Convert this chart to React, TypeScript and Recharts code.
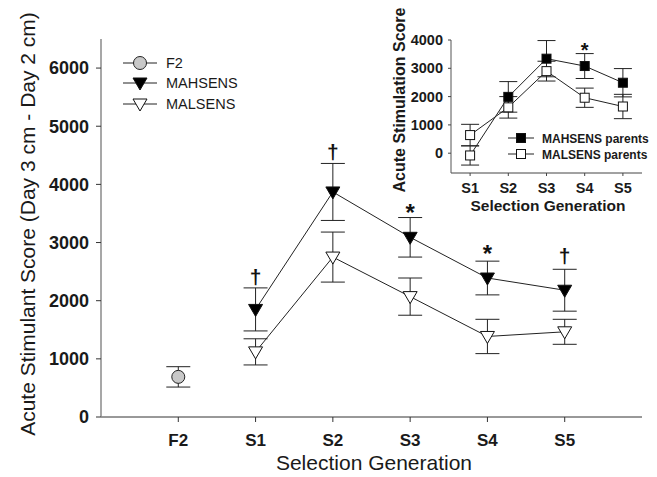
import React from 'react';
import { ComposedChart, Line, XAxis, YAxis, ErrorBar, Scatter } from 'recharts';

// ---------- main chart data ----------
const generations = ['F2', 'S1', 'S2', 'S3', 'S4', 'S5'];
const f2Mean = [690];
const f2Err = [175];
const selGenerations = ['S1', 'S2', 'S3', 'S4', 'S5'];
const mahsensMean = [1850, 3870, 3090, 2390, 2180];
const mahsensErr = [370, 490, 340, 290, 360];
const malsensMean = [1120, 2750, 2070, 1385, 1465];
const malsensErr = [225, 430, 320, 295, 215];
const mainMarkGens = ['S1', 'S2', 'S3', 'S4', 'S5'];
const mainMarkSymbols = ['†', '†', '*', '*', '†'];
const mainMarkY = [2400, 4550, 3620, 2920, 2750];
const mainYTicks = [0, 1000, 2000, 3000, 4000, 5000, 6000];

// ---------- inset data ----------
const insetGenerations = ['S1', 'S2', 'S3', 'S4', 'S5'];
const mahParentsMean = [-80, 1990, 3340, 3080, 2490];
const mahParentsErr = [340, 540, 640, 440, 500];
const malParentsMean = [640, 1620, 2900, 1960, 1650];
const malParentsErr = [380, 380, 350, 340, 430];
const insetMarkGens = ['S4'];
const insetMarkSymbols = ['*'];
const insetMarkY = [3820];
const insetYTicks = [0, 1000, 2000, 3000, 4000];

const FONT = '"Liberation Sans", Arial, Helvetica, sans-serif';
const INK = '#1a1a1a';

const mainX = (g: string) => generations.indexOf(g) + 1;
const insetX = (g: string) => insetGenerations.indexOf(g) + 1;

const f2Data = f2Mean.map((v, i) => ({ x: mainX('F2'), y: v, e: f2Err[i] }));
const mahData = selGenerations.map((g, i) => ({ x: mainX(g), y: mahsensMean[i], e: mahsensErr[i] }));
const malData = selGenerations.map((g, i) => ({ x: mainX(g), y: malsensMean[i], e: malsensErr[i] }));
const mainMarks = mainMarkGens.map((g, i) => ({ x: mainX(g), y: mainMarkY[i], s: mainMarkSymbols[i] }));

const mahPData = insetGenerations.map((g, i) => ({ x: insetX(g), y: mahParentsMean[i], e: mahParentsErr[i] }));
const malPData = insetGenerations.map((g, i) => ({ x: insetX(g), y: malParentsMean[i], e: malParentsErr[i] }));
const insetMarks = insetMarkGens.map((g, i) => ({ x: insetX(g), y: insetMarkY[i], s: insetMarkSymbols[i] }));

const downTri = (fill: string) => (props: any) => {
  const { cx, cy, index } = props;
  if (cx == null || cy == null) return <g key={`n${index}`} />;
  return (
    <path
      key={`t${index}`}
      d={`M${cx - 7},${cy - 5} L${cx + 7},${cy - 5} L${cx},${cy + 7} Z`}
      fill={fill}
      stroke="#111"
      strokeWidth={1}
    />
  );
};

const circleDot = (props: any) => {
  const { cx, cy, index } = props;
  if (cx == null || cy == null) return <g key={`n${index}`} />;
  return <circle key={`c${index}`} cx={cx} cy={cy} r={6.5} fill="#c8c8c8" stroke="#222" strokeWidth={1} />;
};

const square = (fill: string, openIdx: number[] = []) => (props: any) => {
  const { cx, cy, index } = props;
  if (cx == null || cy == null) return <g key={`n${index}`} />;
  const f = openIdx.includes(index) ? '#fff' : fill;
  return <rect key={`s${index}`} x={cx - 4.5} y={cy - 4.5} width={9} height={9} fill={f} stroke="#111" strokeWidth={1} />;
};

// significance symbols as real text, centred on the point
const markShape = (daggerSize: number, starSize: number) => (props: any) => {
  const { cx, cy, payload } = props;
  if (cx == null || cy == null) return <g />;
  const isStar = payload.s === '*';
  const fs = isStar ? starSize : daggerSize;
  const dy = isStar ? 0.6 * fs : 0.3 * fs;
  return (
    <text
      x={cx}
      y={cy + dy}
      textAnchor="middle"
      fontSize={fs}
      fontWeight="bold"
      fontFamily={FONT}
      style={{ fill: '#111', stroke: 'none' }}
    >
      {payload.s}
    </text>
  );
};

export default function App() {
  return (
    <div style={{ position: 'absolute', left: 0, top: 0, width: 657, height: 477, background: '#fff', fontFamily: FONT }}>
      <div style={{ position: 'absolute', left: 0, top: 0 }}>
        <ComposedChart width={657} height={477} margin={{ top: 39, right: 15, bottom: 30, left: 0 }}>
          <XAxis
            type="number"
            dataKey="x"
            domain={[0, 7]}
            ticks={[1, 2, 3, 4, 5, 6]}
            tickFormatter={(v: number) => generations[v - 1] ?? ''}
            height={30}
            tickSize={5}
            tickMargin={12}
            axisLine={{ stroke: '#333' }}
            tickLine={{ stroke: '#333' }}
            tick={{ fontSize: 17, fontWeight: 'bold', fill: INK, fontFamily: FONT }}
            allowDataOverflow
          />
          <YAxis
            type="number"
            domain={[0, 6500]}
            ticks={mainYTicks}
            width={101}
            tickSize={5}
            tickMargin={7}
            axisLine={{ stroke: '#8a8a8a', strokeWidth: 1.5 }}
            tickLine={{ stroke: '#333' }}
            tick={{ fontSize: 18, fontWeight: 'bold', fill: INK, fontFamily: FONT }}
          />
          <Line data={mahData} dataKey="y" stroke="#222" strokeWidth={1} dot={downTri('#000')} activeDot={false} isAnimationActive={false}>
            <ErrorBar dataKey="e" width={12} stroke="#222" strokeWidth={1} direction="y" />
          </Line>
          <Line data={malData} dataKey="y" stroke="#222" strokeWidth={1} dot={downTri('#fff')} activeDot={false} isAnimationActive={false}>
            <ErrorBar dataKey="e" width={12} stroke="#222" strokeWidth={1} direction="y" />
          </Line>
          <Line data={f2Data} dataKey="y" stroke="none" dot={circleDot} activeDot={false} isAnimationActive={false}>
            <ErrorBar dataKey="e" width={12} stroke="#222" strokeWidth={1} direction="y" />
          </Line>
          <Scatter data={mainMarks} dataKey="y" shape={markShape(21, 24)} isAnimationActive={false} />
        </ComposedChart>
      </div>

      <div style={{ position: 'absolute', left: 380, top: 0 }}>
        <ComposedChart width={277} height={230} margin={{ top: 40, right: 15, bottom: 32, left: 0 }}>
          <XAxis
            type="number"
            dataKey="x"
            domain={[0.5, 5.5]}
            ticks={[1, 2, 3, 4, 5]}
            tickFormatter={(v: number) => insetGenerations[v - 1] ?? ''}
            height={25}
            tickSize={3}
            tickMargin={7}
            axisLine={{ stroke: '#444' }}
            tickLine={{ stroke: '#444' }}
            tick={{ fontSize: 14.5, fontWeight: 'bold', fill: INK, fontFamily: FONT }}
          />
          <YAxis
            type="number"
            domain={[-700, 4000]}
            ticks={insetYTicks}
            width={71}
            tickSize={3}
            tickMargin={5}
            axisLine={{ stroke: '#555' }}
            tickLine={{ stroke: '#444' }}
            tick={{ fontSize: 14.5, fontWeight: 'bold', fill: INK, fontFamily: FONT }}
            allowDataOverflow
          />
          <Line data={malPData} dataKey="y" stroke="#222" strokeWidth={1} dot={square('#fff')} activeDot={false} isAnimationActive={false}>
            <ErrorBar dataKey="e" width={9} stroke="#222" strokeWidth={1} direction="y" />
          </Line>
          <Line data={mahPData} dataKey="y" stroke="#222" strokeWidth={1} dot={square('#000', [0])} activeDot={false} isAnimationActive={false}>
            <ErrorBar dataKey="e" width={9} stroke="#222" strokeWidth={1} direction="y" />
          </Line>
          <Scatter data={insetMarks} dataKey="y" shape={markShape(18, 20)} isAnimationActive={false} />
        </ComposedChart>
      </div>

      <svg width={657} height={477} style={{ position: 'absolute', left: 0, top: 0, pointerEvents: 'none' }}>
        {/* main axis titles */}
        <text x={35} y={224} transform="rotate(-90 35 224)" textAnchor="middle" fontSize={21} fontFamily={FONT} fill={INK}>
          Acute Stimulant Score (Day 3 cm - Day 2 cm)
        </text>
        <text x={374} y={470} textAnchor="middle" fontSize={21} fontFamily={FONT} fill={INK}>
          Selection Generation
        </text>
        {/* main legend */}
        <g>
          <line x1={123} x2={157} y1={63} y2={63} stroke="#222" />
          <circle cx={140} cy={63} r={6.5} fill="#c8c8c8" stroke="#222" />
          <text x={166} y={68} fontSize={14.5} fontFamily={FONT} fill={INK}>F2</text>
          <line x1={123} x2={157} y1={83} y2={83} stroke="#222" />
          <path d={`M133,${83 - 5} L147,${83 - 5} L140,${83 + 7} Z`} fill="#000" stroke="#111" />
          <text x={166} y={88} fontSize={14.5} fontFamily={FONT} fill={INK}>MAHSENS</text>
          <line x1={123} x2={157} y1={104} y2={104} stroke="#222" />
          <path d={`M133,${104 - 5} L147,${104 - 5} L140,${104 + 7} Z`} fill="#fff" stroke="#111" />
          <text x={166} y={109} fontSize={14.5} fontFamily={FONT} fill={INK}>MALSENS</text>
        </g>
        {/* inset titles */}
        <text x={405} y={100} transform="rotate(-90 405 100)" textAnchor="middle" fontSize={16} fontWeight="bold" fontFamily={FONT} fill={INK}>
          Acute Stimulation Score
        </text>
        <text x={548} y={211} textAnchor="middle" fontSize={15.5} fontWeight="bold" fontFamily={FONT} fill={INK}>
          Selection Generation
        </text>
        {/* inset legend */}
        <g>
          <line x1={508} x2={534} y1={138} y2={138} stroke="#222" />
          <rect x={516.5} y={133.5} width={9} height={9} fill="#000" stroke="#111" />
          <text x={542} y={142.5} fontSize={12} fontWeight="bold" fontFamily={FONT} fill={INK}>MAHSENS parents</text>
          <line x1={508} x2={534} y1={154} y2={154} stroke="#222" />
          <rect x={516.5} y={149.5} width={9} height={9} fill="#fff" stroke="#111" />
          <text x={542} y={158.5} fontSize={12} fontWeight="bold" fontFamily={FONT} fill={INK}>MALSENS parents</text>
        </g>
      </svg>
    </div>
  );
}
